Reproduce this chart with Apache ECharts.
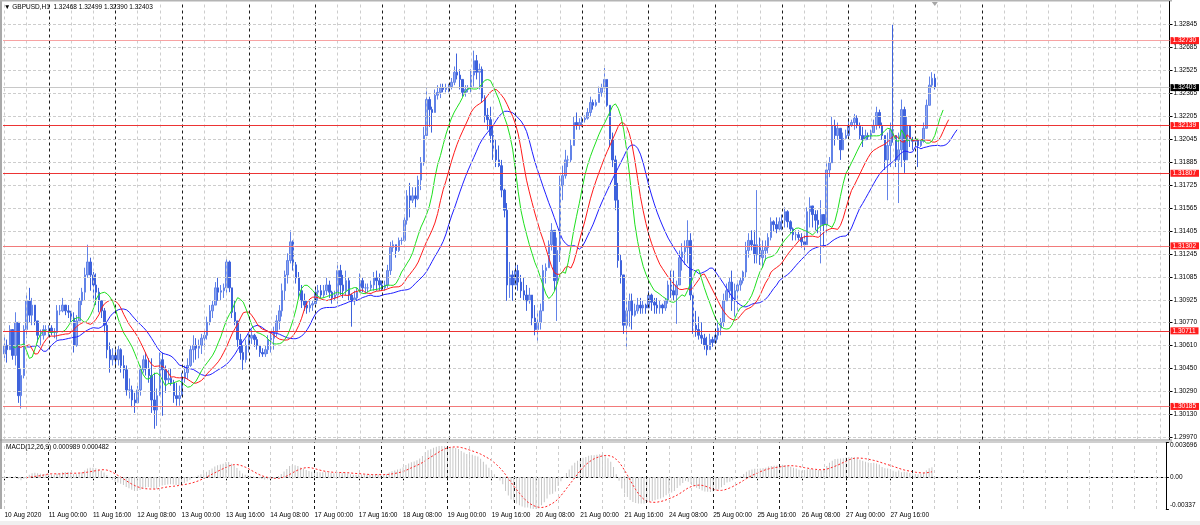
<!DOCTYPE html>
<html><head><meta charset="utf-8">
<script src="https://cdn.jsdelivr.net/npm/echarts@6/dist/echarts.min.js"></script>
<style>html,body{margin:0;padding:0;background:#fff}#c{width:1200px;height:525px}</style>
</head><body><div id="c"></div>
<script>
// ---------------- DATA ----------------
const symbolName = 'GBPUSD,H1';
const firstOpen = 1.3055;
const highs = [
1.3068,1.3065,1.3075,1.3072,1.3084,1.3054,1.3045,1.3075,1.3096,1.3101,
1.3094,1.3089,1.3077,1.3072,1.3075,1.3075,1.3075,1.3075,1.3073,1.3089,
1.3089,1.3094,1.3089,1.3089,1.3085,1.3084,1.3082,1.3094,1.3101,1.3115,
1.3131,1.3122,1.3112,1.3111,1.3101,1.3092,1.3087,1.3077,1.3063,1.3059,
1.3058,1.3061,1.3059,1.3054,1.3047,1.3038,1.3033,1.3028,1.3033,1.3047,
1.3054,1.3056,1.3052,1.3052,1.3042,1.3031,1.3056,1.3056,1.3047,1.3044,
1.3045,1.3037,1.3035,1.3033,1.3042,1.3047,1.3052,1.3061,1.3068,1.3066,
1.3065,1.3069,1.3072,1.3081,1.3089,1.3092,1.3105,1.3108,1.3103,1.3104,
1.3122,1.3120,1.3096,1.3092,1.3075,1.3069,1.3061,1.3065,1.3069,1.3072,
1.3069,1.3067,1.3061,1.3059,1.3061,1.3068,1.3070,1.3074,1.3082,1.3089,
1.3104,1.3113,1.3125,1.3141,1.3134,1.3119,1.3112,1.3103,1.3097,1.3092,
1.3092,1.3092,1.3101,1.3103,1.3103,1.3103,1.3108,1.3106,1.3099,1.3099,
1.3119,1.3117,1.3110,1.3113,1.3108,1.3097,1.3099,1.3101,1.3111,1.3108,
1.3104,1.3104,1.3106,1.3112,1.3113,1.3111,1.3106,1.3106,1.3117,1.3133,
1.3134,1.3131,1.3136,1.3136,1.3152,1.3169,1.3174,1.3171,1.3171,1.3179,
1.3192,1.3213,1.3240,1.3234,1.3227,1.3239,1.3242,1.3243,1.3243,1.3243,
1.3243,1.3247,1.3255,1.3264,1.3253,1.3246,1.3242,1.3242,1.3253,1.3266,
1.3263,1.3257,1.3255,1.3235,1.3226,1.3227,1.3214,1.3204,1.3200,1.3190,
1.3170,1.3160,1.3119,1.3113,1.3118,1.3117,1.3110,1.3108,1.3103,1.3101,
1.3096,1.3089,1.3085,1.3090,1.3117,1.3118,1.3134,1.3146,1.3141,1.3136,
1.3179,1.3186,1.3197,1.3193,1.3204,1.3220,1.3223,1.3219,1.3220,1.3221,
1.3226,1.3234,1.3232,1.3232,1.3241,1.3243,1.3254,1.3242,1.3228,1.3209,
1.3193,1.3174,1.3124,1.3110,1.3094,1.3097,1.3097,1.3090,1.3094,1.3094,
1.3092,1.3090,1.3099,1.3097,1.3094,1.3094,1.3092,1.3090,1.3094,1.3106,
1.3113,1.3113,1.3106,1.3127,1.3132,1.3134,1.3148,1.3139,1.3096,1.3085,
1.3081,1.3077,1.3069,1.3067,1.3069,1.3067,1.3072,1.3077,1.3080,1.3097,
1.3104,1.3108,1.3113,1.3104,1.3106,1.3108,1.3113,1.3133,1.3139,1.3141,
1.3141,1.3169,1.3136,1.3134,1.3134,1.3139,1.3150,1.3148,1.3150,1.3150,
1.3152,1.3157,1.3155,1.3148,1.3143,1.3141,1.3141,1.3139,1.3139,1.3157,
1.3164,1.3157,1.3155,1.3155,1.3162,1.3148,1.3188,1.3192,1.3220,1.3218,
1.3216,1.3204,1.3209,1.3211,1.3219,1.3218,1.3222,1.3221,1.3216,1.3213,
1.3211,1.3209,1.3211,1.3218,1.3227,1.3225,1.3216,1.3204,1.3209,1.3216,
1.3284,1.3204,1.3209,1.3232,1.3227,1.3220,1.3209,1.3206,1.3206,1.3204,
1.3204,1.3216,1.3232,1.3248,1.3251,1.32499];
const lows = [
1.3052,1.3049,1.3061,1.3051,1.3047,1.3021,1.3017,1.3038,1.3066,1.3077,
1.3075,1.3075,1.3063,1.3061,1.3065,1.3068,1.3067,1.3068,1.3066,1.3065,
1.3082,1.3084,1.3082,1.3080,1.3077,1.3056,1.3060,1.3078,1.3089,1.3092,
1.3108,1.3099,1.3091,1.3089,1.3084,1.3080,1.3070,1.3052,1.3042,1.3047,
1.3045,1.3047,1.3042,1.3038,1.3026,1.3024,1.3018,1.3014,1.3021,1.3026,
1.3042,1.3040,1.3035,1.3014,1.3003,1.3005,1.3026,1.3012,1.3028,1.3034,
1.3033,1.3021,1.3019,1.3019,1.3026,1.3035,1.3037,1.3046,1.3049,1.3051,
1.3052,1.3055,1.3058,1.3065,1.3075,1.3080,1.3089,1.3092,1.3092,1.3094,
1.3097,1.3098,1.3080,1.3075,1.3060,1.3051,1.3044,1.3049,1.3056,1.3062,
1.3060,1.3058,1.3053,1.3053,1.3053,1.3055,1.3056,1.3058,1.3067,1.3072,
1.3081,1.3092,1.3104,1.3118,1.3113,1.3104,1.3094,1.3087,1.3085,1.3083,
1.3084,1.3085,1.3091,1.3092,1.3094,1.3094,1.3096,1.3094,1.3090,1.3092,
1.3090,1.3096,1.3094,1.3096,1.3092,1.3074,1.3089,1.3092,1.3098,1.3098,
1.3097,1.3098,1.3099,1.3099,1.3099,1.3099,1.3099,1.3099,1.3101,1.3110,
1.3126,1.3122,1.3126,1.3131,1.3133,1.3145,1.3150,1.3160,1.3157,1.3162,
1.3169,1.3186,1.3207,1.3213,1.3209,1.3223,1.3232,1.3233,1.3237,1.3237,
1.3237,1.3239,1.3242,1.3246,1.3239,1.3234,1.3234,1.3237,1.3237,1.3241,
1.3246,1.3239,1.3230,1.3216,1.3211,1.3202,1.3190,1.3185,1.3185,1.3164,
1.3150,1.3092,1.3094,1.3092,1.3103,1.3099,1.3094,1.3092,1.3085,1.3090,
1.3075,1.3068,1.3063,1.3072,1.3087,1.3104,1.3115,1.3127,1.3099,1.3078,
1.3119,1.3162,1.3177,1.3185,1.3188,1.3200,1.3211,1.3211,1.3213,1.3216,
1.3218,1.3220,1.3225,1.3227,1.3230,1.3234,1.3237,1.3227,1.3199,1.3185,
1.3155,1.3115,1.3104,1.3069,1.3058,1.3074,1.3072,1.3081,1.3083,1.3083,
1.3083,1.3083,1.3087,1.3085,1.3083,1.3083,1.3083,1.3083,1.3085,1.3090,
1.3094,1.3092,1.3076,1.3104,1.3113,1.3117,1.3118,1.3092,1.3069,1.3067,
1.3065,1.3062,1.3058,1.3054,1.3058,1.3060,1.3062,1.3065,1.3068,1.3074,
1.3092,1.3094,1.3085,1.3081,1.3083,1.3099,1.3104,1.3108,1.3122,1.3127,
1.3118,1.3118,1.3117,1.3115,1.3120,1.3125,1.3134,1.3140,1.3139,1.3141,
1.3141,1.3143,1.3143,1.3139,1.3134,1.3134,1.3134,1.3129,1.3127,1.3138,
1.3143,1.3143,1.3141,1.3139,1.3118,1.3129,1.3139,1.3178,1.3188,1.3200,
1.3204,1.3190,1.3199,1.3204,1.3206,1.3213,1.3211,1.3212,1.3204,1.3199,
1.3204,1.3204,1.3204,1.3209,1.3211,1.3212,1.3204,1.3183,1.3162,1.3185,
1.3202,1.3185,1.3160,1.3185,1.3181,1.3192,1.3199,1.3197,1.3199,1.3185,
1.3199,1.3202,1.3213,1.3230,1.3240,1.32390];
const closes = [
1.3061,1.3058,1.3072,1.3054,1.3077,1.3026,1.3040,1.3072,1.3092,1.3082,
1.3089,1.3078,1.3068,1.3068,1.3072,1.3072,1.3073,1.3070,1.3070,1.3085,
1.3085,1.3089,1.3085,1.3084,1.3080,1.3061,1.3078,1.3092,1.3098,1.3110,
1.3119,1.3110,1.3103,1.3098,1.3092,1.3085,1.3075,1.3058,1.3051,1.3054,
1.3051,1.3058,1.3047,1.3044,1.3030,1.3030,1.3023,1.3021,1.3030,1.3044,
1.3051,1.3045,1.3040,1.3023,1.3016,1.3026,1.3051,1.3044,1.3037,1.3038,
1.3035,1.3026,1.3024,1.3026,1.3038,1.3042,1.3047,1.3058,1.3061,1.3059,
1.3061,1.3066,1.3068,1.3077,1.3085,1.3089,1.3101,1.3098,1.3099,1.3101,
1.3119,1.3101,1.3084,1.3078,1.3065,1.3056,1.3051,1.3061,1.3066,1.3068,
1.3065,1.3061,1.3056,1.3055,1.3058,1.3065,1.3066,1.3070,1.3078,1.3085,
1.3099,1.3110,1.3120,1.3133,1.3117,1.3108,1.3099,1.3092,1.3089,1.3087,
1.3089,1.3090,1.3098,1.3099,1.3096,1.3099,1.3103,1.3098,1.3094,1.3096,
1.3113,1.3103,1.3099,1.3106,1.3096,1.3092,1.3094,1.3098,1.3106,1.3101,
1.3101,1.3101,1.3103,1.3108,1.3106,1.3103,1.3101,1.3103,1.3113,1.3129,
1.3131,1.3127,1.3134,1.3134,1.3148,1.3165,1.3162,1.3165,1.3163,1.3176,
1.3188,1.3207,1.3232,1.3225,1.3223,1.3235,1.3237,1.3240,1.3239,1.3240,
1.3241,1.3244,1.3251,1.3249,1.3246,1.3237,1.3239,1.3240,1.3249,1.3259,
1.3251,1.3253,1.3233,1.3221,1.3218,1.3207,1.3197,1.3190,1.3186,1.3169,
1.3155,1.3103,1.3110,1.3103,1.3113,1.3105,1.3099,1.3096,1.3092,1.3096,
1.3080,1.3072,1.3077,1.3085,1.3113,1.3115,1.3131,1.3141,1.3106,1.3127,
1.3172,1.3179,1.3190,1.3190,1.3200,1.3216,1.3214,1.3216,1.3218,1.3219,
1.3223,1.3230,1.3228,1.3230,1.3237,1.3240,1.3246,1.3228,1.3204,1.3190,
1.3162,1.3120,1.3110,1.3075,1.3085,1.3092,1.3082,1.3085,1.3089,1.3087,
1.3089,1.3087,1.3096,1.3091,1.3089,1.3087,1.3089,1.3087,1.3092,1.3103,
1.3099,1.3096,1.3103,1.3122,1.3126,1.3129,1.3134,1.3096,1.3075,1.3072,
1.3068,1.3066,1.3061,1.3058,1.3065,1.3063,1.3068,1.3073,1.3077,1.3092,
1.3099,1.3105,1.3092,1.3099,1.3103,1.3106,1.3112,1.3127,1.3134,1.3131,
1.3124,1.3131,1.3122,1.3127,1.3129,1.3136,1.3147,1.3145,1.3142,1.3147,
1.3148,1.3154,1.3147,1.3142,1.3138,1.3138,1.3136,1.3133,1.3131,1.3154,
1.3158,1.3152,1.3148,1.3145,1.3152,1.3145,1.3183,1.3188,1.3214,1.3207,
1.3212,1.3197,1.3205,1.3207,1.3214,1.3216,1.3219,1.3214,1.3207,1.3204,
1.3207,1.3206,1.3209,1.3214,1.3223,1.3214,1.3207,1.3190,1.3200,1.3211,
1.3207,1.3190,1.3197,1.3225,1.3190,1.3214,1.3204,1.3203,1.3204,1.3200,
1.3203,1.3212,1.3228,1.3242,1.32468,1.32403];

const tickLabels = ['10 Aug 2020','11 Aug 00:00','11 Aug 16:00','12 Aug 08:00','13 Aug 00:00',
'13 Aug 16:00','14 Aug 08:00','17 Aug 00:00','17 Aug 16:00','18 Aug 08:00','19 Aug 00:00',
'19 Aug 16:00','20 Aug 08:00','21 Aug 00:00','21 Aug 16:00','24 Aug 08:00','25 Aug 00:00',
'25 Aug 16:00','26 Aug 08:00','27 Aug 00:00','27 Aug 16:00'];
const priceTicks = [1.32845,1.32685,1.32525,1.32365,1.32205,1.32045,1.31885,1.31725,1.31565,
1.31405,1.31245,1.31085,1.30925,1.30770,1.30610,1.30450,1.30290,1.30130,1.29970];
const levelValues = [1.32730,1.32139,1.31807,1.31302,1.30711,1.30185];
const macdTicks = [-0.00337, 0, 0.003696];
const macdTickLabels = ['-0.00337','0.00','0.003696'];
const macdTitle = 'MACD(12,26,9) 0.000989 0.000482';

// ---------------- layout / derived ----------------
const N = closes.length;
const SLOTS = 420;          // bars + empty right-hand shift area
const LABEL_STEP = 16;
const categories = Array.from({length: SLOTS}, (_, i) => String(i));
const opens = closes.map((c, i) => i === 0 ? firstOpen : closes[i - 1]);
const candles = closes.map((c, i) => {
  const o = opens[i];
  return [o, c, Math.min(lows[i], o, c), Math.max(highs[i], o, c)];
});
// Alligator (SMMA of median price, shifted forward)
const median = highs.map((h, i) => (h + lows[i]) / 2);
function smma(src, n) { const out = []; let v = src[0];
  src.forEach((x, i) => { if (i > 0) v = (v * (n - 1) + x) / n; out.push(v); }); return out; }
function shiftFwd(arr, s) { const out = new Array(SLOTS).fill(null);
  arr.forEach((v, i) => { if (i + s < SLOTS) out[i + s] = v; }); return out; }
const jaw = shiftFwd(smma(median, 13), 8);
const teeth = shiftFwd(smma(median, 8), 5);
const lips = shiftFwd(smma(median, 5), 3);
// MACD(12,26,9)
function ema(src, n) { const k = 2 / (n + 1); const out = []; let v = src[0];
  src.forEach((x, i) => { if (i > 0) v = v + k * (x - v); out.push(v); }); return out; }
const e12 = ema(closes, 12), e26 = ema(closes, 26);
const macd = e12.map((v, i) => v - e26[i]);
const signal = macd.map((v, i) => i < 8 ? null : macd.slice(i - 8, i + 1).reduce((a, b) => a + b, 0) / 9);

const FONT = 'Liberation Sans, Arial, DejaVu Sans, sans-serif';
const FS = 6.5;
const yMin = 1.29955, yMax = 1.33002;

// grid lines: light every 8 bars, dark day separators (drawn up to the first one past the last bar)
const vLines = [];
for (let i = 0; i < SLOTS; i += 8) {
  const dark = (i % 24) === 16 && i <= N + 24;
  vLines.push({ xAxis: String(i), lineStyle: dark
    ? { color: '#1a1a1a', type: [3, 3], width: 1 }
    : { color: '#cdcdcd', type: [3, 3], width: 1 } });
}
const hLines = priceTicks.map(v => ({ yAxis: v, lineStyle: { color: '#cdcdcd', type: [3, 2], width: 1 } }));
const baseML = { symbol: ['none', 'none'], silent: true, animation: false, precision: 8,
  label: { show: false }, emphasis: { disabled: true } };

const levelColors = ['#f7a3a3', '#ec3434', '#ec3434', '#f27a7a', '#ec3434', '#f27a7a'];
const lvlLabel = (txt, bg) => ({ show: true, position: 'end', distance: 1, formatter: txt,
  color: '#fff', backgroundColor: bg, fontSize: FS, fontFamily: FONT, padding: [0, 3, 0, 2], lineHeight: 7 });
const last = N - 1;
const levelLines = levelValues.map((v, k) => ({ yAxis: v,
  lineStyle: { color: levelColors[k], width: 1, type: 'solid' }, label: lvlLabel(v.toFixed(5), '#ff1e1e') }));
levelLines.push({ yAxis: closes[last], lineStyle: { color: '#c8c8c8', width: 1, type: 'solid' },
  label: lvlLabel(closes[last].toFixed(5), '#000') });

const isLabelIdx = (idx) => idx % LABEL_STEP === 0 && idx / LABEL_STEP < tickLabels.length;
// invisible carrier series holding the grid / level markLines
const carrier = (name, xi, yi, data, z, ml) => ({ name, type: 'line', xAxisIndex: xi, yAxisIndex: yi, data,
  z, silent: true, showSymbol: false, lineStyle: { opacity: 0 }, markLine: Object.assign({}, baseML, ml) });

const option = {
  animation: false,
  backgroundColor: '#ffffff',
  textStyle: { fontFamily: FONT },
  title: [
    { text: '\u25BC ' + symbolName + '  ' + [opens[last], highs[last], lows[last], closes[last]].map(v => v.toFixed(5)).join(' '),
      left: 4, top: 4, padding: 0, textStyle: { fontSize: FS, fontWeight: 'normal', color: '#000', fontFamily: FONT } },
    { text: macdTitle, left: 6, top: 444, padding: 0,
      textStyle: { fontSize: FS, fontWeight: 'normal', color: '#000', fontFamily: FONT } }
  ],
  grid: [
    { left: 3, right: 28, top: 1.5, height: 438 },
    { left: 3, right: 28, top: 442.5, height: 66.5 }
  ],
  xAxis: [
    { type: 'category', gridIndex: 0, data: categories, boundaryGap: true,
      axisLine: { show: false }, axisTick: { show: false }, axisLabel: { show: false }, splitLine: { show: false } },
    { type: 'category', gridIndex: 1, data: categories, boundaryGap: true,
      axisLine: { show: true, lineStyle: { color: '#000', width: 1 } },
      axisTick: { show: true, alignWithLabel: true, interval: isLabelIdx, length: 3, lineStyle: { color: '#000' } },
      axisLabel: { show: true, interval: isLabelIdx, formatter: (v, idx) => tickLabels[idx / LABEL_STEP],
        align: 'left', fontSize: FS, color: '#000', margin: 3, fontFamily: FONT },
      splitLine: { show: false } }
  ],
  yAxis: [
    { type: 'value', gridIndex: 0, position: 'right', min: yMin, max: yMax,
      axisLine: { show: true, lineStyle: { color: '#000', width: 1 } },
      axisTick: { show: true, customValues: priceTicks, length: 3, lineStyle: { color: '#000' } },
      axisLabel: { show: true, customValues: priceTicks, formatter: v => v.toFixed(5),
        fontSize: FS, color: '#000', margin: 4, fontFamily: FONT },
      splitLine: { show: false } },
    { type: 'value', gridIndex: 1, position: 'right', min: macdTicks[0], max: macdTicks[2],
      axisLine: { show: true, lineStyle: { color: '#000', width: 1 } },
      axisTick: { show: true, customValues: macdTicks, length: 3, lineStyle: { color: '#000' } },
      axisLabel: { show: true, customValues: macdTicks, fontSize: FS, color: '#000', margin: 4, fontFamily: FONT,
        formatter: v => { const k = macdTicks.indexOf(v); const t = macdTickLabels[k];
          return k === 2 ? '{t|' + t + '}' : (k === 0 ? '{b|' + t + '}' : t); },
        rich: { t: { fontSize: FS, padding: [6, 0, 0, 0] }, b: { fontSize: FS, padding: [0, 0, 7, 0] } } },
      splitLine: { show: false } }
  ],
  series: [
    carrier('grid-main', 0, 0, closes, 1, { data: vLines.concat(hLines) }),
    carrier('grid-macd', 1, 1, macd, 1, { data: vLines.concat([{ yAxis: 0, lineStyle: { color: '#cdcdcd', type: [3, 2], width: 1 } }]) }),
    carrier('levels', 0, 0, closes, 5, { data: levelLines, label: { show: true } }),
    { name: 'price', type: 'candlestick', xAxisIndex: 0, yAxisIndex: 0, data: candles, barWidth: 2, z: 3,
      itemStyle: { color: '#8fa6ee', color0: '#3e62dc', borderColor: '#6283e8', borderColor0: '#3e62dc', borderWidth: 1 } },
    { name: 'jaw', type: 'line', xAxisIndex: 0, yAxisIndex: 0, data: jaw, showSymbol: false, z: 4,
      lineStyle: { color: '#1f1fff', width: 1 } },
    { name: 'teeth', type: 'line', xAxisIndex: 0, yAxisIndex: 0, data: teeth, showSymbol: false, z: 4,
      lineStyle: { color: '#ff1a1a', width: 1 } },
    { name: 'lips', type: 'line', xAxisIndex: 0, yAxisIndex: 0, data: lips, showSymbol: false, z: 4,
      lineStyle: { color: '#1ee01e', width: 1 } },
    { name: 'macd', type: 'bar', xAxisIndex: 1, yAxisIndex: 1, data: macd, barWidth: 1, z: 3,
      itemStyle: { color: '#c6c6c6' } },
    { name: 'signal', type: 'line', xAxisIndex: 1, yAxisIndex: 1, data: signal, showSymbol: false, z: 4,
      lineStyle: { color: '#ff2020', width: 1, type: [2, 2] } }
  ],
  graphic: [
    { id: 'bl', type: 'rect', shape: { x: 0, y: 0, width: 2, height: 509 }, style: { fill: '#a9a9a9' }, silent: true },
    { id: 'bt', type: 'rect', shape: { x: 0, y: 0, width: 1172, height: 1.5 }, style: { fill: '#b4b4b4' }, silent: true },
    { id: 's1', type: 'rect', shape: { x: 0, y: 439.5, width: 1172, height: 1 }, style: { fill: '#8c8c8c' }, silent: true },
    { id: 's2', type: 'rect', shape: { x: 0, y: 441.5, width: 1172, height: 1 }, style: { fill: '#a0a0a0' }, silent: true },
    { id: 'bb', type: 'rect', shape: { x: 0, y: 521, width: 1200, height: 4 }, style: { fill: '#f0f0f0' }, silent: true }
  ]
};
const chart = echarts.init(document.getElementById('c'), null, { renderer: 'canvas', width: 1200, height: 525 });
chart.setOption(option);
// chart-shift marker above the last bar
const sx = chart.convertToPixel({ xAxisIndex: 0 }, String(last));
chart.setOption({ graphic: [{ id: 'shift', type: 'polygon', silent: true,
  shape: { points: [[sx - 3, 2], [sx + 3, 2], [sx, 6]] }, style: { fill: '#a6a6a6' } }] });
</script>
</body></html>
